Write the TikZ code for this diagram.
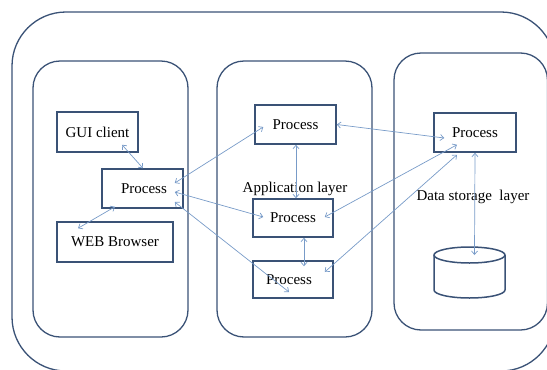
\documentclass[tikz,border=0pt]{standalone}
\usepackage{fontspec}
\setmainfont{Liberation Serif}
\usetikzlibrary{arrows.meta,calc}
\definecolor{frame}{RGB}{58,82,118}
\definecolor{arrowc}{RGB}{120,155,200}
\tikzset{
  container/.style={draw=frame, line width=1.3pt, rounded corners=27pt},
  procbox/.style={draw=frame, line width=1.5pt, rectangle, inner sep=0pt, font=\fontsize{15}{18}\selectfont},
  link/.style={draw=arrowc, line width=0.7pt, {Straight Barb[length=3.5pt,width=6pt]}-{Straight Barb[length=3.5pt,width=6pt]}},
  lbl/.style={font=\fontsize{15}{18}\selectfont, inner sep=0pt}
}
\begin{document}
\begin{tikzpicture}[x=1pt,y=-1pt]
\useasboundingbox (0,0) rectangle (547,370);
\clip (0,0) rectangle (547,370);
% outer frame
\draw[draw=frame, line width=1.3pt, rounded corners=54pt] (12,12) rectangle (555,371);
% containers
\draw[container] (33,61) rectangle (188,337);
\draw[container] (217,61) rectangle (372,337);
\draw[container] (394,53) rectangle (547.5,330);
% boxes
\node[procbox, minimum width=81pt, minimum height=40pt] (gui) at (97.5,132) {GUI client};
\node[procbox, minimum width=81pt, minimum height=39pt] (pl) at (142.5,188.5) {\hspace*{3pt}Process};
\node[procbox, minimum width=116pt, minimum height=40pt] (web) at (115,242) {WEB Browser};
\node[procbox, minimum width=81pt, minimum height=39pt] (pt) at (295.5,124.5) {Process};
\node[procbox, minimum width=80pt, minimum height=38pt] (pm) at (293,218) {Process};
\node[procbox, minimum width=80pt, minimum height=37pt] (pb) at (293,279.5) {\hspace*{-8pt}Process};
\node[procbox, minimum width=82pt, minimum height=39pt] (pr) at (475,132.5) {Process};
% cylinder (database)
\draw[draw=frame, line width=1.5pt] (434,255) -- (434,290) arc[start angle=180, end angle=360, x radius=35.5, y radius=-8] -- (505,255);
\draw[draw=frame, line width=1.5pt] (469.5,255) ellipse[x radius=35.5, y radius=8];
\coordinate (dbtop) at (474.5,255);
% labels
\node[lbl] (applbl) at (295,189) {Application layer};
\node[lbl] (datalbl) at (473,197) {Data storage~~layer};
% connectors
\draw[link] ([shift={(24.5,-8)}]gui.south) -- ([shift={(0.5,0)}]pl.north);
\draw[link] ([shift={(-27.5,-2)}]pl.south) -- ([shift={(-37,7)}]web.north);
\draw[link] ([shift={(-9,-5.5)}]pl.east) -- ([shift={(9,2.5)}]pt.west);
\draw[link] ([shift={(-9,3.5)}]pl.east) -- ([shift={(11,-1)}]pm.west);
\draw[link] ([shift={(-9,13.5)}]pl.east) -- ([shift={(-4,12.5)}]pb.center);
\draw[link] (pt.east) -- ([shift={(11,5.5)}]pr.west);
\draw[link] ([shift={(0.5,0)}]pt.south) -- ([shift={(3,0)}]pm.north);
\draw[link] ([shift={(11,0)}]pm.south) -- ([shift={(11,6)}]pb.north);
\draw[link] ([shift={(-18,-8)}]pr.south) -- ([shift={(-9,-1)}]pm.east);
\draw[link] ([shift={(-18,2)}]pr.south) -- ([shift={(-9,-7.5)}]pb.east);
\draw[link] (pr.south) -- (dbtop);
\end{tikzpicture}
\end{document}
